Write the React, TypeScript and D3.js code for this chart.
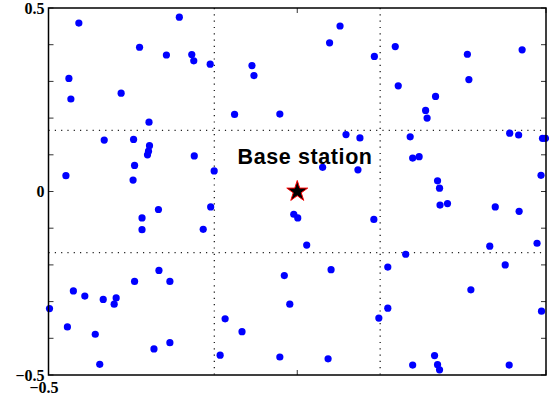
import React, { useEffect } from 'react';
import * as d3 from 'd3';

// node positions (x, y in [-0.5, 0.5])
const nodeX = [
  -0.439, -0.459, -0.455, -0.354, -0.317, -0.263, -0.237, -0.212, -0.208, -0.298,
  -0.388, -0.329, -0.175, -0.091, -0.087, -0.126, -0.035, 0.065, 0.086, 0.098,
  0.126, 0.155, 0.197, 0.203, 0.278, 0.258, 0.261, 0.342, 0.345, 0.452,
  0.227, 0.427, 0.445, 0.493, 0.499, -0.297, -0.299, -0.301, -0.327, -0.330,
  -0.465, -0.279, -0.312, -0.312, -0.207, -0.167, -0.174, -0.189, -0.007, 0.001,
  0.019, 0.051, 0.122, 0.232, 0.245, 0.282, 0.286, 0.287, 0.302, 0.154,
  0.398, 0.446, 0.490, 0.387, 0.482, 0.218, 0.182, 0.418, -0.498, -0.450,
  -0.427, -0.390, -0.364, -0.368, -0.327, -0.278, -0.256, -0.462, -0.406, -0.397,
  -0.288, -0.256, -0.145, -0.111, -0.155, -0.026, -0.015, -0.035, 0.068, 0.062,
  0.182, 0.164, 0.349, 0.491, 0.276, 0.282, 0.286, 0.232, 0.426,
];
const nodeY = [
  0.459, 0.308, 0.252, 0.268, 0.393, 0.372, 0.475, 0.373, 0.356, 0.189,
  0.140, 0.142, 0.347, 0.343, 0.316, 0.210, 0.211, 0.405, 0.451, 0.155,
  0.146, 0.368, 0.395, 0.288, 0.259, 0.221, 0.200, 0.374, 0.305, 0.386,
  0.149, 0.159, 0.154, 0.145, 0.145, 0.125, 0.110, 0.100, 0.071, 0.031,
  0.043, -0.049, -0.072, -0.104, 0.097, 0.056, -0.042, -0.103, -0.062, -0.072,
  -0.146, 0.066, 0.059, 0.091, 0.095, 0.029, 0.009, -0.037, -0.033, -0.076,
  -0.042, -0.054, 0.044, -0.149, -0.141, -0.171, -0.206, -0.200, -0.319, -0.271,
  -0.285, -0.294, -0.290, -0.307, -0.245, -0.215, -0.245, -0.369, -0.389, -0.471,
  -0.429, -0.412, -0.347, -0.382, -0.446, -0.229, -0.307, -0.451, -0.213, -0.456,
  -0.318, -0.345, -0.268, -0.326, -0.447, -0.472, -0.486, -0.473, -0.473,
];

const yTicks = [-0.5, -0.4, -0.3, -0.2, -0.1, 0, 0.1, 0.2, 0.3, 0.4, 0.5];
const xTicks = [-0.5, 0, 0.5];
const yTickLabels = [
  { v: 0.5, t: '0.5' },
  { v: 0, t: '0' },
  { v: -0.5, t: '\u22120.5' },
];
const xTickLabels = [{ v: -0.5, t: '\u22120.5' }];
const gridLines = [-1 / 6, 1 / 6];
const baseStation = { x: 0, y: 0, label: 'Base station', lx: -0.12, ly: 0.075 };

const W = 549;
const H = 401;
const margin = { top: 8, right: 3, bottom: 26, left: 48.5 };

export default function App() {
  useEffect(() => {
    document.body.style.margin = '0';
  }, []);

  const x = d3.scaleLinear().domain([-0.5, 0.5]).range([margin.left, W - margin.right]);
  const y = d3.scaleLinear().domain([-0.5, 0.5]).range([H - margin.bottom, margin.top]);
  const [x0, x1] = x.range();
  const [y0, y1] = y.range();

  const star = d3.symbol().type(d3.symbolStar).size(136)();
  const tickLen = 5;
  const serif = '"Liberation Serif", "Times New Roman", serif';

  return (
    <svg width={W} height={H} style={{ display: 'block' }}>
      {/* dotted grid */}
      {gridLines.map((g, i) => (
        <g key={'g' + i} stroke="#222" strokeWidth={1.3} strokeDasharray="1.2,5.1">
          <line x1={x(g)} x2={x(g)} y1={y1} y2={y0} />
          <line x1={x0} x2={x1} y1={y(g)} y2={y(g)} />
        </g>
      ))}

      {/* ticks */}
      <g stroke="#333" strokeWidth={1}>
        {yTicks.map((t) => (
          <g key={'yt' + t}>
            <line x1={x0} x2={x0 + tickLen} y1={y(t)} y2={y(t)} />
            <line x1={x1} x2={x1 - tickLen} y1={y(t)} y2={y(t)} />
          </g>
        ))}
        {xTicks.map((t) => (
          <g key={'xt' + t}>
            <line x1={x(t)} x2={x(t)} y1={y0} y2={y0 - tickLen} />
            <line x1={x(t)} x2={x(t)} y1={y1} y2={y1 + tickLen} />
          </g>
        ))}
      </g>

      {/* nodes */}
      {nodeX.map((nx, i) => (
        <circle key={'n' + i} cx={x(nx)} cy={y(nodeY[i])} r={3.6} fill="#0000ff" />
      ))}

      {/* base station */}
      <path
        d={star as string}
        transform={`translate(${x(baseStation.x)},${y(baseStation.y)})`}
        fill="#000"
        stroke="#ff0000"
        strokeWidth={1}
      />
      <text
        x={x(baseStation.lx)}
        y={y(baseStation.ly)}
        fontFamily='"Liberation Sans", Arial, sans-serif'
        fontWeight="bold"
        fontSize={21.5}
        letterSpacing={0.6}
        fill="#000"
      >
        {baseStation.label}
      </text>

      {/* frame */}
      <rect
        x={x0}
        y={y1}
        width={x1 - x0}
        height={y0 - y1}
        fill="none"
        stroke="#000"
        strokeWidth={1.5}
      />

      {/* tick labels */}
      {yTickLabels.map((d) => (
        <text
          key={'yl' + d.v}
          x={x0 - 4}
          y={y(d.v)}
          dy="0.35em"
          textAnchor="end"
          fontFamily={serif}
          fontWeight="bold"
          fontSize={16}
        >
          {d.t}
        </text>
      ))}
      {xTickLabels.map((d) => (
        <text
          key={'xl' + d.v}
          x={x(d.v) - 4.5}
          y={y0 + 17.5}
          textAnchor="middle"
          fontFamily={serif}
          fontWeight="bold"
          fontSize={16}
        >
          {d.t}
        </text>
      ))}
    </svg>
  );
}
